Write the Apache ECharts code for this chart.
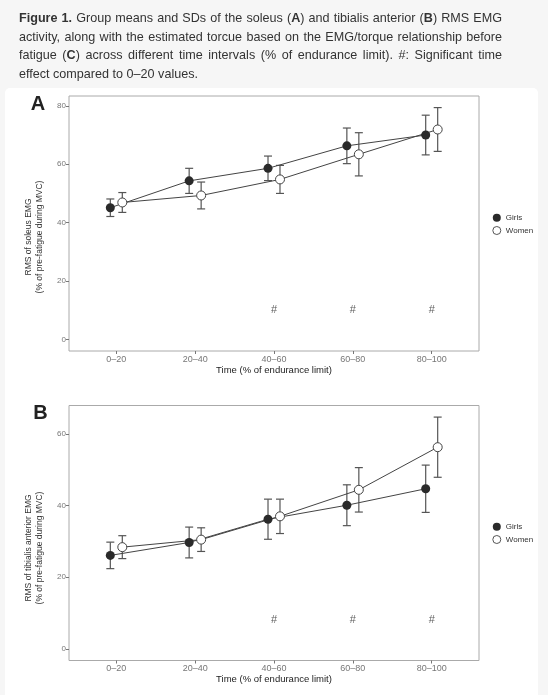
<!DOCTYPE html>
<html>
<head>
<meta charset="utf-8">
<script src="https://cdn.jsdelivr.net/npm/echarts@6/dist/echarts.min.js"></script>
<style>
  html, body { margin: 0; padding: 0; background: #f6f6f6; }
  #chart { position: absolute; left: 0; top: 0; width: 548px; height: 695px; }
  #caption {
    position: absolute; left: 19px; top: 9px; width: 483px;
    font-family: 'Liberation Sans', Arial, sans-serif; font-size: 12.6px;
    line-height: 18.6px; color: #333; z-index: 2;
  }
  #caption div { text-align: justify; text-align-last: justify; white-space: nowrap; }
  #caption div.last { text-align-last: left; }
</style>
</head>
<body>
<div id="chart"></div>
<div id="caption">
  <div><b>Figure 1.</b> Group means and SDs of the soleus (<b>A</b>) and tibialis anterior (<b>B</b>) RMS EMG</div>
  <div>activity, along with the estimated torcue based on the EMG/torque relationship before</div>
  <div>fatigue (<b>C</b>) across different time intervals (% of endurance limit). #: Significant time</div>
  <div class="last">effect compared to 0–20 values.</div>
</div>
<script>
// categories + tick labels
var timeLabels = ['0–20', '20–40', '40–60', '60–80', '80–100'];
var yTicksA = [0, 20, 40, 60, 80];
var yTicksB = [0, 20, 40, 60];

// A: soleus RMS EMG (% of pre-fatigue MVC)
var soleusGirls = [45.1, 54.3, 58.6, 66.3, 70.0];
var soleusGirlsSD = [3.0, 4.3, 4.2, 6.1, 6.8];
var soleusWomen = [46.9, 49.3, 54.8, 63.4, 71.9];
var soleusWomenSD = [3.4, 4.6, 4.8, 7.4, 7.5];

// B: tibialis anterior RMS EMG
var tibGirls = [26.1, 29.7, 36.2, 40.1, 44.7];
var tibGirlsSD = [3.7, 4.3, 5.6, 5.7, 6.6];
var tibWomen = [28.4, 30.5, 37.0, 44.4, 56.3];
var tibWomenSD = [3.2, 3.3, 4.8, 6.2, 8.4];

// significant time effect (#) and where it is printed
var sigIdx = [2, 3, 4];
var sigYA = 10;
var sigYB = 8;

var dodge = 0.076;
var font = "'Liberation Sans', Arial, sans-serif";

function pts(vals, off) {
    return vals.map(function (v, i) { return [i + 1 + off, v]; });
}
function bars(vals, sd, off) {
    return vals.map(function (v, i) { return [i + 1 + off, v - sd[i], v + sd[i]]; });
}
function topOf(a, as, b, bs) {
    var m = 0;
    for (var i = 0; i < a.length; i++) {
        m = Math.max(m, a[i] + as[i], b[i] + bs[i]);
    }
    return m;
}

function errorBar(params, api) {
    var x = api.value(0);
    var lo = api.coord([x, api.value(1)]);
    var hi = api.coord([x, api.value(2)]);
    var w = 4;
    var st = { stroke: '#555', lineWidth: 1.2 };
    return {
        type: 'group',
        children: [
            { type: 'line', shape: { x1: hi[0], y1: hi[1], x2: lo[0], y2: lo[1] }, style: st },
            { type: 'line', shape: { x1: hi[0] - w, y1: hi[1], x2: hi[0] + w, y2: hi[1] }, style: st },
            { type: 'line', shape: { x1: lo[0] - w, y1: lo[1], x2: lo[0] + w, y2: lo[1] }, style: st }
        ]
    };
}

function panelSeries(idx, girls, girlsSD, women, womenSD, sigY) {
    var base = { xAxisIndex: idx, yAxisIndex: idx };
    return [
        Object.assign({ type: 'custom', name: 'errG', renderItem: errorBar, encode: { x: 0, y: [1, 2] },
            data: bars(girls, girlsSD, -dodge), z: 1, silent: true }, base),
        Object.assign({ type: 'custom', name: 'errW', renderItem: errorBar, encode: { x: 0, y: [1, 2] },
            data: bars(women, womenSD, dodge), z: 1, silent: true }, base),
        Object.assign({ type: 'line', name: 'lineG', data: pts(girls, -dodge), showSymbol: false,
            lineStyle: { color: '#444', width: 1 }, z: 2, silent: true }, base),
        Object.assign({ type: 'line', name: 'lineW', data: pts(women, dodge), showSymbol: false,
            lineStyle: { color: '#444', width: 1 }, z: 2, silent: true }, base),
        Object.assign({ type: 'scatter', name: 'Girls', data: pts(girls, -dodge), symbolSize: 9,
            itemStyle: { color: '#2a2a2a', opacity: 1 }, z: 3 }, base),
        Object.assign({ type: 'scatter', name: 'Women', data: pts(women, dodge), symbolSize: 9,
            itemStyle: { color: '#fff', borderColor: '#444', borderWidth: 1, opacity: 1 }, z: 4 }, base),
        Object.assign({ type: 'scatter', name: 'sig', symbolSize: 0, silent: true,
            data: sigIdx.map(function (i) { return [i + 1, sigY]; }),
            label: { show: true, position: 'inside', formatter: '#', fontSize: 11, color: '#333', fontFamily: font }
        }, base)
    ];
}

function xAx(idx) {
    return {
        type: 'value', gridIndex: idx, min: 0.4, max: 5.6,
        axisLine: { show: false, onZero: false },
        splitLine: { show: false },
        axisTick: { show: true, customValues: [1, 2, 3, 4, 5], length: 3, lineStyle: { color: '#777' } },
        axisLabel: { customValues: [1, 2, 3, 4, 5], margin: 4, fontSize: 9, color: '#777', fontFamily: font,
            formatter: function (v) { return timeLabels[Math.round(v) - 1]; } },
        name: 'Time (% of endurance limit)', nameLocation: 'middle', nameGap: 13,
        nameTextStyle: { fontSize: 9.5, color: '#222', fontFamily: font }
    };
}
function yAx(idx, ticks, top) {
    return {
        type: 'value', gridIndex: idx, min: -0.05 * top, max: 1.05 * top,
        axisLine: { show: false, onZero: false },
        splitLine: { show: false },
        axisTick: { show: true, customValues: ticks, length: 3, lineStyle: { color: '#777' } },
        axisLabel: { customValues: ticks, margin: 3, fontSize: 8, color: '#777', fontFamily: font }
    };
}
function legend(top) {
    return {
        orient: 'vertical', left: 492.3, top: top, padding: 0, itemWidth: 8, itemHeight: 8, itemGap: 4.3,
        icon: 'circle', selectedMode: false,
        textStyle: { fontSize: 8, color: '#333', fontFamily: font, lineHeight: 8 },
        data: [
            { name: 'Girls', itemStyle: { color: '#2a2a2a' } },
            { name: 'Women', itemStyle: { color: '#fff', borderColor: '#555', borderWidth: 1 } }
        ]
    };
}

var topA = topOf(soleusGirls, soleusGirlsSD, soleusWomen, soleusWomenSD);
var topB = topOf(tibGirls, tibGirlsSD, tibWomen, tibWomenSD);

var chart = echarts.init(document.getElementById('chart'));
var option = {
    animation: false,
    backgroundColor: 'transparent',
    textStyle: { fontFamily: font },
    grid: [
        { left: 69, top: 96, width: 410, height: 255, show: true, borderColor: '#aaa', borderWidth: 1 },
        { left: 69, top: 405.5, width: 410, height: 255, show: true, borderColor: '#aaa', borderWidth: 1 }
    ],
    xAxis: [xAx(0), xAx(1)],
    yAxis: [yAx(0, yTicksA, topA), yAx(1, yTicksB, topB)],
    legend: [legend(213.7), legend(522.7)],
    graphic: [
        { type: 'rect', z: -10, shape: { x: 5, y: 88, width: 533, height: 640, r: 5 }, style: { fill: '#fff' } },
        { type: 'text', x: 38, y: 104, style: { text: 'A', fontSize: 20, fontWeight: 'bold', fill: '#222',
            fontFamily: font, align: 'center', verticalAlign: 'middle' } },
        { type: 'text', x: 40.5, y: 413, style: { text: 'B', fontSize: 20, fontWeight: 'bold', fill: '#222',
            fontFamily: font, align: 'center', verticalAlign: 'middle' } },
        { type: 'text', x: 34.3, y: 237, rotation: Math.PI / 2, style: {
            text: 'RMS of soleus EMG\n(% of pre-fatigue during MVC)', fontSize: 8.5, lineHeight: 11.3,
            fill: '#333', fontFamily: font, align: 'center', verticalAlign: 'middle' } },
        { type: 'text', x: 34.3, y: 548, rotation: Math.PI / 2, style: {
            text: 'RMS of tibialis anterior EMG\n(% of pre-fatigue during MVC)', fontSize: 8.5, lineHeight: 11.3,
            fill: '#333', fontFamily: font, align: 'center', verticalAlign: 'middle' } }
    ],
    series: panelSeries(0, soleusGirls, soleusGirlsSD, soleusWomen, soleusWomenSD, sigYA)
        .concat(panelSeries(1, tibGirls, tibGirlsSD, tibWomen, tibWomenSD, sigYB))
};
chart.setOption(option);
</script>
</body>
</html>
